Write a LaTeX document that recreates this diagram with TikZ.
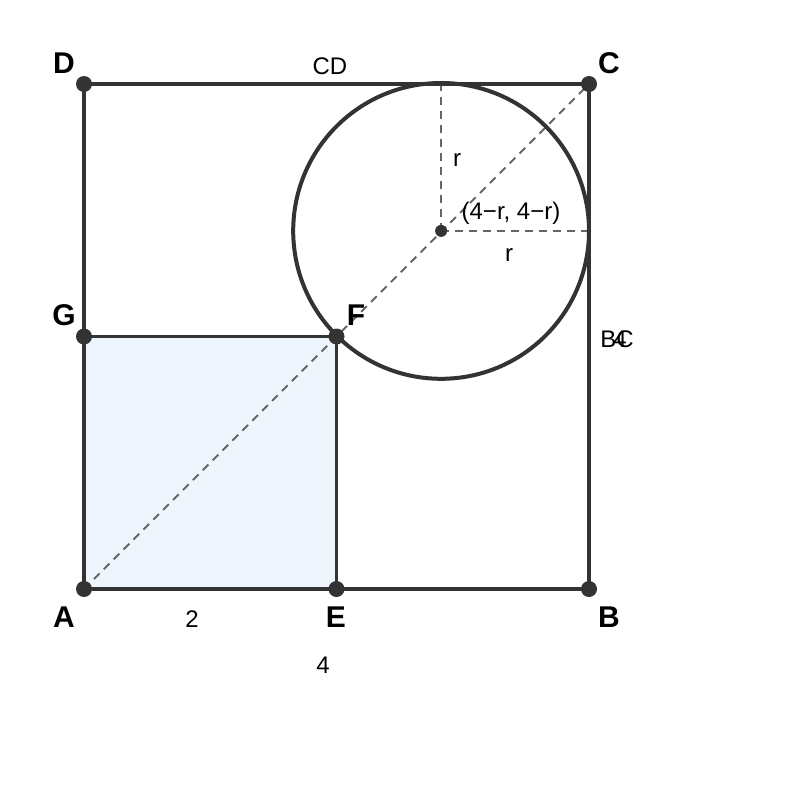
\documentclass[tikz,border=0pt]{standalone}
\usepackage{fontspec}
\setmainfont{Liberation Sans}
\begin{document}
\begin{tikzpicture}[x=0.75pt,y=-0.75pt,
  edge/.style={draw=black!80, line width=3pt},
  thin/.style={draw=black!80, line width=2.2pt},
  guide/.style={draw=black!60, line width=1.5pt, dash pattern=on 6pt off 4.5pt},
  pt/.style={circle, fill=black!80, inner sep=0pt, minimum size=12pt},
  cpt/.style={circle, fill=black!80, inner sep=0pt, minimum size=9pt},
  plab/.style={font=\fontsize{22.5}{25}\selectfont\bfseries, text=black},
  lab/.style={font=\fontsize{18}{21}\selectfont, text=black}]
\useasboundingbox (0,0) rectangle (800,800);
\coordinate (A) at (84,589);
\coordinate (B) at (589,589);
\coordinate (C) at (589,84);
\coordinate (D) at (84,84);
\coordinate (E) at (336.5,589);
\coordinate (F) at (336.5,336.5);
\coordinate (G) at (84,336.5);
\coordinate (O) at (441.1,230.9);
\coordinate (T) at (441.1,84);
\coordinate (R) at (589,230.9);
\fill[fill={rgb,255:red,238;green,245;blue,252}] (A) rectangle (F);
\draw[guide] (A) -- (C);
\draw[guide] (O) -- (T);
\draw[guide] (O) -- (R);
\draw[thin] (G) -- (F) -- (E);
\draw[edge] (A) -- (B) -- (C) -- (D) -- cycle;
\draw[edge] (O) circle (147.9);
\node[pt] (pA) at (A) {};
\node[pt] (pB) at (B) {};
\node[pt] (pC) at (C) {};
\node[pt] (pD) at (D) {};
\node[pt] (pE) at (E) {};
\node[pt] (pF) at (F) {};
\node[pt] (pG) at (G) {};
\node[cpt] (pO) at (O) {};
\node[plab] (lD) at (64,63) {D};
\node[plab] (lC) at (609,63) {C};
\node[plab] (lG) at (64,315) {G};
\node[plab] (lF) at (356,315) {F};
\node[plab] (lA) at (64,617) {A};
\node[plab] (lE) at (336,617) {E};
\node[plab] (lB) at (609,617) {B};
\node[lab] (lCD) at (330,66) {CD};
\node[lab] (lr1) at (457,160) {r};
\node[lab] (lO) at (511,213) {(4−r, 4−r)};
\node[lab] (lr2) at (509,255) {r};
\node[lab] (lBC) at (617,339) {BC};
\node[lab] (l4a) at (620,339) {4};
\node[lab] (l2) at (192,619) {2};
\node[lab] (l4b) at (323,665) {4};
\end{tikzpicture}
\end{document}
